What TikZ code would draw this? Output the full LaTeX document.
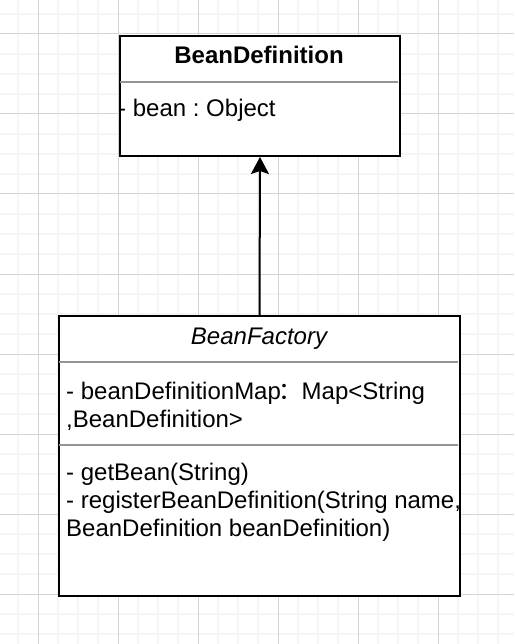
\documentclass[tikz,border=0pt]{standalone}
\usepackage{fontspec}
\setmainfont{Liberation Sans}
\newfontfamily\cjk{Noto Sans CJK SC}
\usetikzlibrary{arrows.meta}
\frenchspacing
\begin{document}
\begin{tikzpicture}[x=1pt,y=-1pt,
  umlbox/.style={draw=black,line width=2pt,fill=white,rectangle,inner sep=0pt},
  sepline/.style={draw=black!42,line width=1.5pt},
  txt/.style={inner sep=0pt,anchor=base west,font=\fontsize{24}{28.8}\selectfont},
  ttl/.style={inner sep=0pt,anchor=base,font=\fontsize{24}{28.8}\selectfont},
  gridminor/.style={draw=black!4,line width=2pt},
  gridmajor/.style={draw=black!17,line width=1pt},
  inherit/.style={draw=black,line width=2pt,-{Stealth[length=17pt,width=18pt,inset=3pt]}}]
\useasboundingbox (0,0) rectangle (514,644);
\fill[white] (0,0) rectangle (514,644);
% grid
\foreach \gx in {18,58,78,98,138,158,178,218,238,258,298,318,338,378,398,418,458,478,498}
  \draw[gridminor] (\gx,0) -- (\gx,644);
\foreach \gy in {14,54,74,94,134,154,174,214,234,254,294,314,334,374,394,414,454,474,494,534,554,574,614,634}
  \draw[gridminor] (0,\gy) -- (514,\gy);
\foreach \gx in {38,118,198,278,358,438}
  \draw[gridmajor] (\gx,0) -- (\gx,644);
\foreach \gy in {34,114,194,274,354,434,514,594}
  \draw[gridmajor] (0,\gy) -- (514,\gy);
% BeanDefinition
\node[umlbox,minimum width=280pt,minimum height=120pt,anchor=north west] (bd) at (119,35) {};
\coordinate (bdsepL) at (120,82);
\coordinate (bdsepR) at (398,82);
\draw[sepline] (bdsepL) -- (bdsepR);
\node[ttl,font=\fontsize{24}{28.8}\selectfont\bfseries] (bdtitle) at (259,64) {BeanDefinition};
\node[txt] (bdattr) at (118,117) {- bean : Object};
% BeanFactory
\node[umlbox,minimum width=401pt,minimum height=280pt,anchor=north west] (bf) at (58,315) {};
\coordinate (bfsep1L) at (59,362);
\coordinate (bfsep1R) at (458,362);
\coordinate (bfsep2L) at (59,445);
\coordinate (bfsep2R) at (458,445);
\draw[sepline] (bfsep1L) -- (bfsep1R);
\draw[sepline] (bfsep2L) -- (bfsep2R);
\node[ttl,font=\fontsize{24}{28.8}\selectfont\itshape] (bftitle) at (259,344) {BeanFactory};
\node[txt] (bfattr1) at (66,399) {- beanDefinitionMap\hspace{-2pt}{\cjk ：}\hspace{-8pt} Map<String};
\node[txt] (bfattr2) at (66,427) {,BeanDefinition>};
\node[txt] (bfm1) at (66,480) {- getBean(String)};
\node[txt] (bfm2) at (66,508) {- registerBeanDefinition(String name,};
\node[txt] (bfm3) at (66,536) {BeanDefinition beanDefinition)};
% inheritance
\draw[inherit] (bf.north) -- (bd.south);
\end{tikzpicture}
\end{document}
